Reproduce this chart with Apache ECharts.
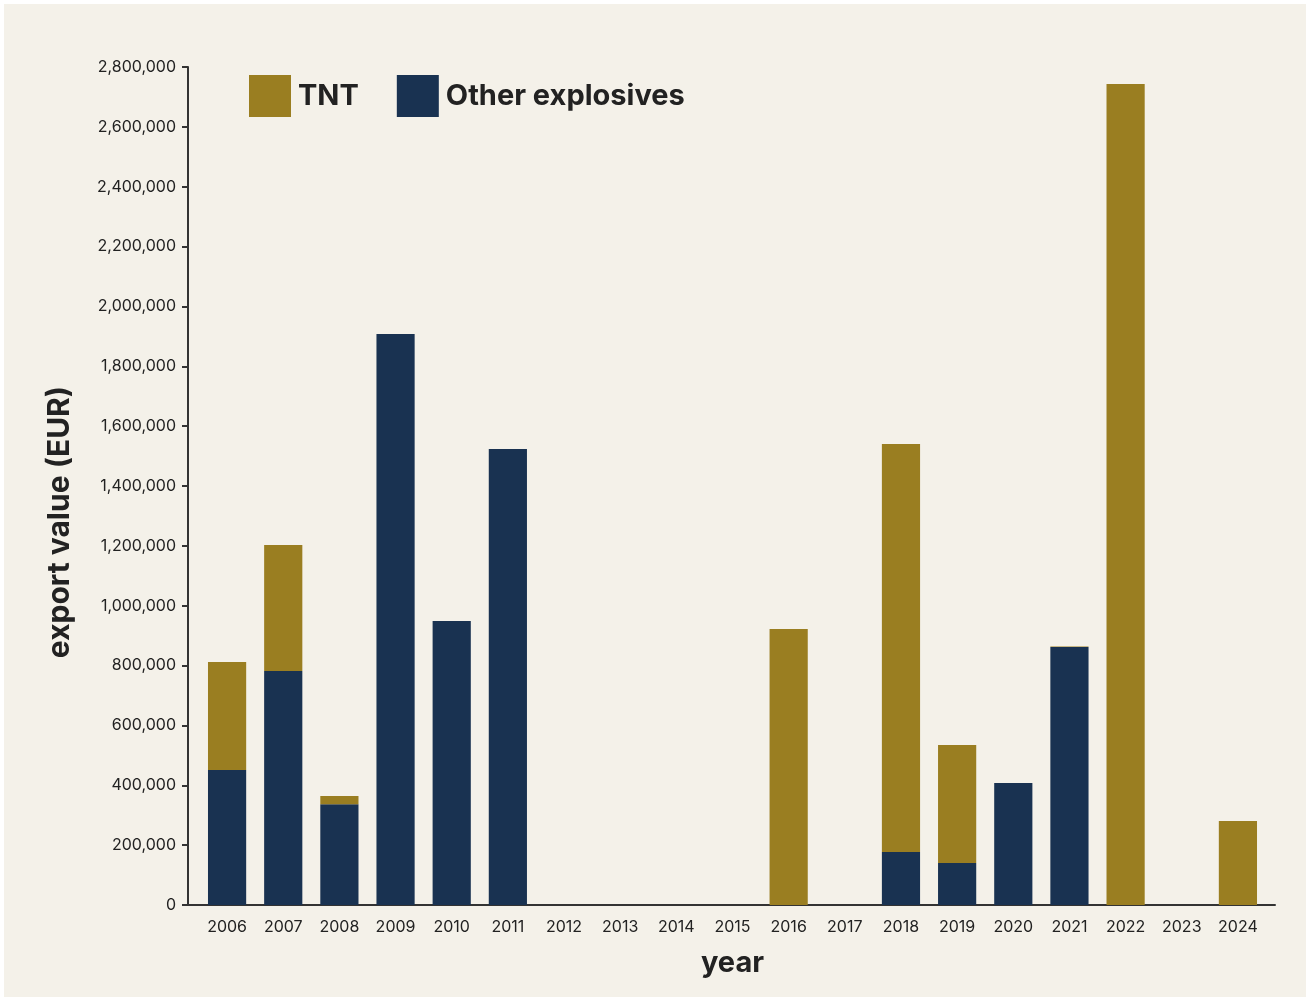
<!DOCTYPE html>
<html>
<head>
<meta charset="utf-8">
<script src="https://cdn.jsdelivr.net/npm/echarts@6/dist/echarts.min.js"></script>
<style>
html,body{margin:0;padding:0;background:#ffffff;}
#frame{position:absolute;left:4px;top:4px;width:1302px;height:993px;background:#f4f1e9;}
#chart{position:absolute;left:0;top:0;width:1310px;height:1001px;}
</style>
</head>
<body>
<div id="frame"></div>
<div id="chart"></div>
<script>
const years = ['2006','2007','2008','2009','2010','2011','2012','2013','2014','2015','2016','2017','2018','2019','2020','2021','2022','2023','2024'];
const otherExplosives = [451000, 782000, 337000, 1908000, 949000, 1524000, 0, 0, 0, 0, 0, 0, 177000, 140000, 408000, 862000, 0, 0, 0];
const tnt = [361000, 421000, 27000, 0, 0, 0, 0, 0, 0, 0, 922000, 0, 1363000, 395000, 0, 1500, 2743000, 0, 281000];
const yTicks = [0, 200000, 400000, 600000, 800000, 1000000, 1200000, 1400000, 1600000, 1800000, 2000000, 2200000, 2400000, 2600000, 2800000];

const font = 'Inter';
const ink = '#222222';
const axisCol = '#333333';
const chart = echarts.init(document.getElementById('chart'), null, {renderer: 'canvas'});
chart.setOption({
  backgroundColor: 'transparent',
  textStyle: {fontFamily: font},
  animation: false,
  legend: {
    left: 244, top: 70,
    itemWidth: 42, itemHeight: 42, itemGap: 38,
    icon: 'rect',
    textStyle: {fontSize: 29, fontWeight: 'bold', color: ink, fontFamily: font, padding: [0, 0, 0, 2]},
    data: ['TNT', 'Other explosives']
  },
  grid: [
    {left: 199, right: 44, top: 67, bottom: 96},
    {left: 188, right: 35, top: 67, bottom: 96}
  ],
  xAxis: [
    {
      type: 'category',
      gridIndex: 0,
      data: years,
      name: 'year',
      nameLocation: 'middle',
      nameGap: 44,
      nameTextStyle: {fontSize: 29, fontWeight: 'bold', color: ink, fontFamily: font},
      axisLine: {show: false},
      axisTick: {alignWithLabel: true, length: 6, lineStyle: {color: axisCol, width: 2}},
      axisLabel: {fontSize: 16, color: ink, margin: 14, interval: 0, fontFamily: font}
    },
    {
      type: 'value',
      gridIndex: 1,
      min: 0, max: 1,
      axisLine: {show: true, lineStyle: {color: axisCol, width: 2}},
      axisTick: {show: false},
      axisLabel: {show: false},
      splitLine: {show: false}
    }
  ],
  yAxis: [
    {
      type: 'value',
      gridIndex: 0,
      offset: 11,
      min: 0, max: 2800000, interval: 200000,
      name: 'export value (EUR)',
      nameLocation: 'middle',
      nameGap: 113,
      nameRotate: 90,
      nameTextStyle: {fontSize: 30, fontWeight: 'bold', color: ink, fontFamily: font, padding: [0, 0, 0, -72]},
      axisLine: {show: true, lineStyle: {color: axisCol, width: 2}},
      axisTick: {show: true, length: 6, lineStyle: {color: axisCol, width: 2}},
      splitLine: {show: false},
      axisLabel: {
        fontSize: 16, color: ink, margin: 12, fontFamily: font,
        formatter: v => yTicks.includes(v) ? v.toLocaleString('en-US') : ''
      }
    },
    {
      type: 'value',
      gridIndex: 1,
      show: false
    }
  ],
  series: [
    {name: 'Other explosives', type: 'bar', stack: 'total', xAxisIndex: 0, yAxisIndex: 0, data: otherExplosives, barWidth: '68%', itemStyle: {color: '#193251'}},
    {name: 'TNT', type: 'bar', stack: 'total', xAxisIndex: 0, yAxisIndex: 0, data: tnt, barWidth: '68%', itemStyle: {color: '#9a7e21'}}
  ]
});
</script>
</body>
</html>
